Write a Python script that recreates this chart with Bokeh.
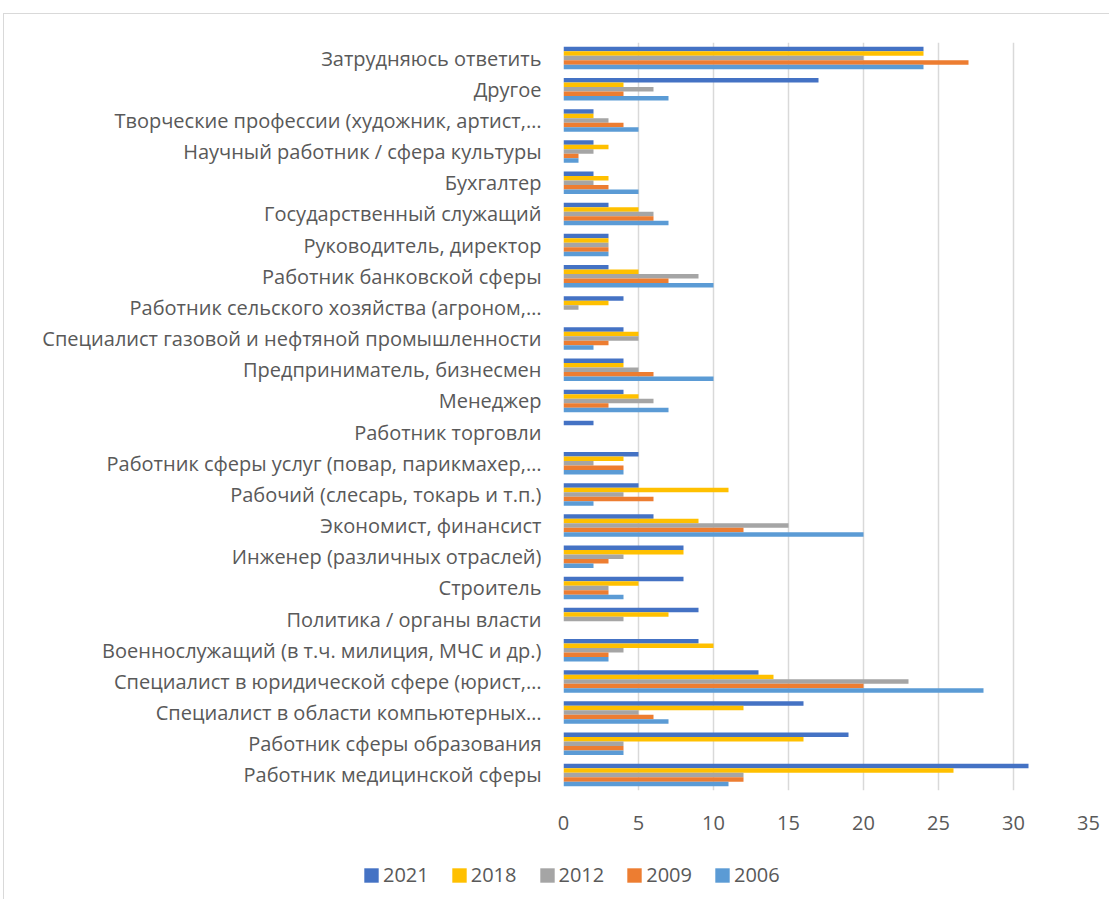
from bokeh.plotting import figure
from bokeh.models import ColumnDataSource, FactorRange, Legend, LegendItem, FixedTicker
from bokeh.transform import dodge
from bokeh.embed import file_html
from bokeh.resources import INLINE

# Categories, listed top to bottom as in the picture
categories = [
    "Затрудняюсь ответить",
    "Другое",
    "Творческие профессии (художник, артист,…",
    "Научный работник / сфера культуры",
    "Бухгалтер",
    "Государственный служащий",
    "Руководитель, директор",
    "Работник банковской сферы",
    "Работник сельского хозяйства (агроном,…",
    "Специалист газовой и нефтяной промышленности",
    "Предприниматель, бизнесмен",
    "Менеджер",
    "Работник торговли",
    "Работник сферы услуг (повар, парикмахер,…",
    "Рабочий (слесарь, токарь и т.п.)",
    "Экономист, финансист",
    "Инженер (различных отраслей)",
    "Строитель",
    "Политика / органы власти",
    "Военнослужащий (в т.ч. милиция, МЧС и др.)",
    "Специалист в юридической сфере (юрист,…",
    "Специалист в области компьютерных…",
    "Работник сферы образования",
    "Работник медицинской сферы",
]

years = ["2021", "2018", "2012", "2009", "2006"]

v2021 = [24, 17, 2, 2, 2, 3, 3, 3, 4, 4, 4, 4, 2, 5, 5, 6, 8, 8, 9, 9, 13, 16, 19, 31]
v2018 = [24, 4, 2, 3, 3, 5, 3, 5, 3, 5, 4, 5, 0, 4, 11, 9, 8, 5, 7, 10, 14, 12, 16, 26]
v2012 = [20, 6, 3, 2, 2, 6, 3, 9, 1, 5, 5, 6, 0, 2, 4, 15, 4, 3, 4, 4, 23, 5, 4, 12]
v2009 = [27, 4, 4, 1, 3, 6, 3, 7, 0, 3, 6, 3, 0, 4, 6, 12, 3, 3, 0, 3, 20, 6, 4, 12]
v2006 = [24, 7, 5, 1, 5, 7, 3, 10, 0, 2, 10, 7, 0, 4, 2, 20, 2, 4, 0, 3, 28, 7, 4, 11]

x_ticks = [0, 5, 10, 15, 20, 25, 30, 35]

colors = ["#4472C4", "#FFC000", "#A5A5A5", "#ED7D31", "#5B9BD5"]
series = [v2021, v2018, v2012, v2009, v2006]

FONT = "Open Sans"
TEXT_COLOR = "#595959"
FS = "20px"
BORDER = "1px solid #D9D9D9"

factors = categories[::-1]  # bottom to top for the y range
data = {"cat": factors}
for yr, vals in zip(years, series):
    data["y" + yr] = vals[::-1]
src = ColumnDataSource(data)

p = figure(
    width=1106, height=836,
    y_range=FactorRange(factors=factors, range_padding=0),
    x_range=(0, 35),
    output_backend="svg", toolbar_location=None,
    min_border_left=559, min_border_right=22,
    min_border_top=28, min_border_bottom=60,
    styles={"margin-left": "3px", "margin-top": "13px",
            "border-left": BORDER, "border-top": BORDER},
)
p.outline_line_color = None
p.background_fill_color = "white"
p.border_fill_color = "white"

bar_h = 0.144
offsets = [2 * bar_h, bar_h, 0.0, -bar_h, -2 * bar_h]
for yr, col, off in zip(years, colors, offsets):
    p.hbar(y=dodge("cat", off, range=p.y_range), left=0, right="y" + yr,
           height=bar_h, source=src, fill_color=col, line_color=None)

# axes
p.xaxis.ticker = FixedTicker(ticks=x_ticks)
p.xaxis.axis_line_color = None
p.xaxis.major_tick_line_color = None
p.xaxis.minor_tick_line_color = None
p.xaxis.major_tick_out = 0
p.xaxis.major_tick_in = 0
p.xaxis.major_label_standoff = 25
p.xaxis.major_label_text_font = FONT
p.xaxis.major_label_text_font_size = FS
p.xaxis.major_label_text_color = TEXT_COLOR

p.yaxis.axis_line_color = None
p.yaxis.major_tick_line_color = None
p.yaxis.minor_tick_line_color = None
p.yaxis.major_tick_out = 0
p.yaxis.major_tick_in = 0
p.yaxis.major_label_standoff = 22
p.yaxis.major_label_text_font = FONT
p.yaxis.major_label_text_font_size = FS
p.yaxis.major_label_text_color = TEXT_COLOR

p.ygrid.grid_line_color = None
p.xgrid.grid_line_color = "#D9D9D9"
p.xgrid.grid_line_width = 1.5

# legend strip below the chart (separate root so its frame spans the full width)
pl = figure(
    width=1106, height=50, x_range=(0, 1), y_range=(0, 1),
    output_backend="svg", toolbar_location=None,
    x_axis_location=None, y_axis_location=None,
    min_border_left=0, min_border_right=0, min_border_top=0, min_border_bottom=0,
    styles={"margin-left": "3px", "border-left": BORDER},
)
pl.outline_line_color = None
pl.grid.grid_line_color = None
pl.background_fill_color = "white"
pl.border_fill_color = "white"
dummy = ColumnDataSource(dict(x=[0.5], top=[0.0]))
leg_renderers = [pl.vbar(x="x", top="top", bottom=0, width=0.0, source=dummy,
                         fill_color=col, line_color=None) for col in colors]

legend = Legend(
    items=[LegendItem(label=yr, renderers=[r]) for yr, r in zip(years, leg_renderers)],
    orientation="horizontal",
    location=(358, 11),
    glyph_width=18, glyph_height=18,
    label_standoff=3, spacing=21,
    padding=0, margin=0,
    border_line_color=None, background_fill_alpha=0,
    label_text_font=FONT, label_text_font_size=FS, label_text_color=TEXT_COLOR,
)
pl.add_layout(legend, "center")

open("out.html", "w").write(file_html([p, pl], INLINE))
